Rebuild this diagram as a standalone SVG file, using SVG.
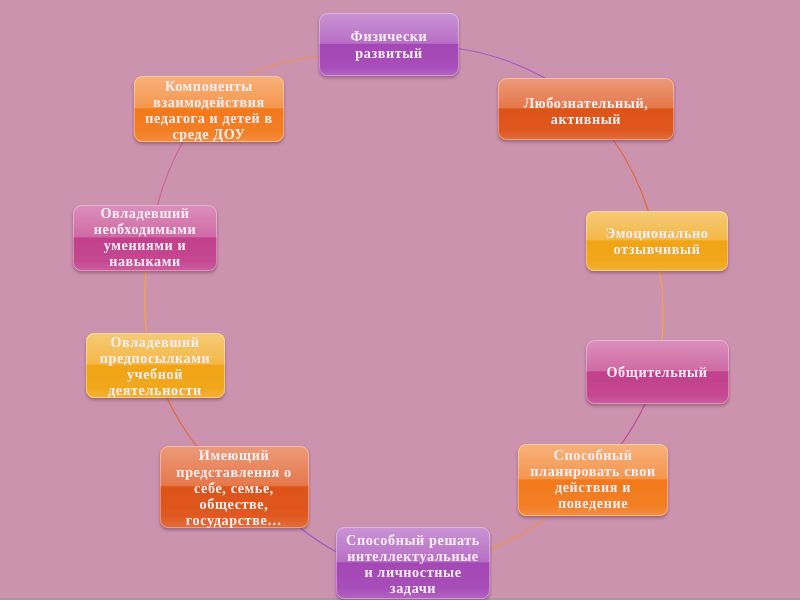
<svg xmlns="http://www.w3.org/2000/svg" width="800" height="600" viewBox="0 0 800 600">
<defs>
<linearGradient id="gloss" x1="0" y1="0" x2="0" y2="1">
<stop offset="0" stop-color="#fff" stop-opacity="0.42"/>
<stop offset="0.48" stop-color="#fff" stop-opacity="0.22"/>
<stop offset="0.5" stop-color="#fff" stop-opacity="0"/>
<stop offset="0.85" stop-color="#fff" stop-opacity="0.04"/>
<stop offset="1" stop-color="#fff" stop-opacity="0.16"/>
</linearGradient>
<filter id="sh" x="-10%" y="-10%" width="120%" height="130%">
<feDropShadow dx="0" dy="2" stdDeviation="1.5" flood-color="#5a2a40" flood-opacity="0.45"/>
</filter>
</defs>
<style>
.bg{fill:#cc93af}
.n{filter:url(#sh)}
.g{fill:url(#gloss)}
.purple{fill:#a447b6}
.red{fill:#de5218}
.yel{fill:#f0a414}
.mag{fill:#c2408c}
.org{fill:#f2791c}
.edge{fill:none;stroke:#fff;stroke-opacity:0.35;stroke-width:1}
text{font-family:"Liberation Serif","Times New Roman",serif;font-weight:bold;font-size:14.2px;letter-spacing:0.6px;fill:#f7eef2;text-anchor:middle}
.c{fill:none;stroke-width:1.2}
</style>
<rect class="bg" x="0" y="0" width="800" height="600"/>
<rect x="0" y="598" width="800" height="2" fill="#a8989f"/>
<g id="connectors">
<path class="c" stroke="#f0904a" d="M250,73 A262,262 0 0 1 322,56"/>
<path class="c" stroke="#a45cc0" d="M455,48 A262,262 0 0 1 545,78"/>
<path class="c" stroke="#e0683a" d="M612,138 A262,262 0 0 1 649,213"/>
<path class="c" stroke="#f2a640" d="M659,268 A262,262 0 0 1 662,342"/>
<path class="c" stroke="#c04a98" d="M646,402 A262,262 0 0 1 620,446"/>
<path class="c" stroke="#f0904a" d="M552,514 A262,262 0 0 1 488,550"/>
<path class="c" stroke="#9a5ac4" d="M338,553 A262,262 0 0 1 298,526"/>
<path class="c" stroke="#e0683a" d="M198,448 A262,262 0 0 1 166,396"/>
<path class="c" stroke="#f2a640" d="M147,335 A262,262 0 0 1 146,270"/>
<path class="c" stroke="#d060a0" d="M157,207 A262,262 0 0 1 184,140"/>
</g>
<g id="n1" class="n"><rect class="purple" x="319" y="13" width="140" height="63" rx="8"/><rect class="g" x="319" y="13" width="140" height="63" rx="8"/><rect class="edge" x="319.5" y="13.5" width="139" height="62" rx="8"/>
<text x="389" y="41">Физически</text><text x="389" y="58">развитый</text></g>
<g id="n2" class="n"><rect class="red" x="498" y="78" width="176" height="62" rx="8"/><rect class="g" x="498" y="78" width="176" height="62" rx="8"/><rect class="edge" x="498.5" y="78.5" width="175" height="61" rx="8"/>
<text x="586" y="108">Любознательный,</text><text x="586" y="124">активный</text></g>
<g id="n3" class="n"><rect class="yel" x="586" y="211" width="142" height="60" rx="8"/><rect class="g" x="586" y="211" width="142" height="60" rx="8"/><rect class="edge" x="586.5" y="211.5" width="141" height="59" rx="8"/>
<text x="657" y="238">Эмоционально</text><text x="657" y="254">отзывчивый</text></g>
<g id="n4" class="n"><rect class="mag" x="586" y="340" width="143" height="64" rx="8"/><rect class="g" x="586" y="340" width="143" height="64" rx="8"/><rect class="edge" x="586.5" y="340.5" width="142" height="63" rx="8"/>
<text x="657" y="377">Общительный</text></g>
<g id="n5" class="n"><rect class="org" x="518" y="444" width="150" height="72" rx="8"/><rect class="g" x="518" y="444" width="150" height="72" rx="8"/><rect class="edge" x="518.5" y="444.5" width="149" height="71" rx="8"/>
<text x="593" y="460">Способный</text><text x="593" y="476">планировать свои</text><text x="593" y="492">действия и</text><text x="593" y="508">поведение</text></g>
<g id="n6" class="n"><rect class="purple" x="336" y="527" width="154" height="72" rx="8"/><rect class="g" x="336" y="527" width="154" height="72" rx="8"/><rect class="edge" x="336.5" y="527.5" width="153" height="71" rx="8"/>
<text x="413" y="545">Способный решать</text><text x="413" y="561">интеллектуальные</text><text x="413" y="577">и личностные</text><text x="413" y="593">задачи</text></g>
<g id="n7" class="n"><rect class="red" x="160" y="446" width="149" height="82" rx="8"/><rect class="g" x="160" y="446" width="149" height="82" rx="8"/><rect class="edge" x="160.5" y="446.5" width="148" height="81" rx="8"/>
<text x="234" y="460">Имеющий</text><text x="234" y="477">представления о</text><text x="234" y="493">себе, семье,</text><text x="234" y="509">обществе,</text><text x="234" y="525">государстве…</text></g>
<g id="n8" class="n"><rect class="yel" x="86" y="333" width="139" height="65" rx="8"/><rect class="g" x="86" y="333" width="139" height="65" rx="8"/><rect class="edge" x="86.5" y="333.5" width="138" height="64" rx="8"/>
<text x="155" y="347">Овладевший</text><text x="155" y="363">предпосылками</text><text x="155" y="379">учебной</text><text x="155" y="395">деятельности</text></g>
<g id="n9" class="n"><rect class="mag" x="73" y="205" width="144" height="66" rx="8"/><rect class="g" x="73" y="205" width="144" height="66" rx="8"/><rect class="edge" x="73.5" y="205.5" width="143" height="65" rx="8"/>
<text x="145" y="218">Овладевший</text><text x="145" y="234">необходимыми</text><text x="145" y="250">умениями и</text><text x="145" y="266">навыками</text></g>
<g id="n10" class="n"><rect class="org" x="134" y="76" width="150" height="66" rx="8"/><rect class="g" x="134" y="76" width="150" height="66" rx="8"/><rect class="edge" x="134.5" y="76.5" width="149" height="65" rx="8"/>
<text x="209" y="91">Компоненты</text><text x="209" y="107">взаимодействия</text><text x="209" y="123">педагога и детей в</text><text x="209" y="139">среде ДОУ</text></g>
</svg>
